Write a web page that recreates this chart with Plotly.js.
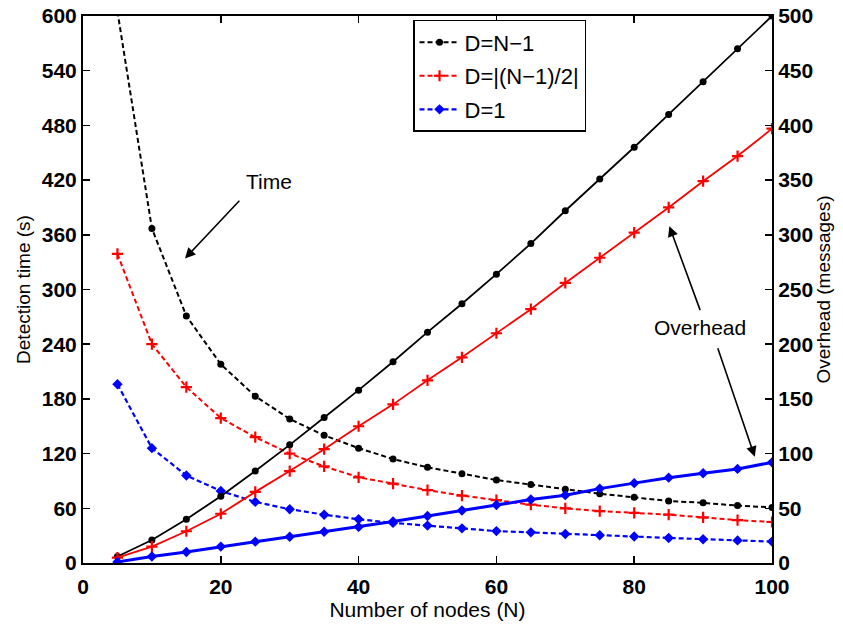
<!DOCTYPE html>
<html>
<head>
<meta charset="utf-8">
<script src="https://cdn.plot.ly/plotly-3.0.1.min.js"></script>
<style>html,body{margin:0;padding:0;background:#fff;}#chart{width:843px;height:625px;}</style>
</head>
<body>
<div id="chart"></div>
<script>
// Number of nodes
const nodes = [5,10,15,20,25,30,35,40,45,50,55,60,65,70,75,80,85,90,95,100];

// Detection time (s), left axis
const timeFull = [605,367,271,218,183,158,140,126,114,105,98,91,86,81,76,72,68,66,63,61];
const timeHalf = [339,240,193,159,138,120,106,94,87,80,74,69,64,60,57,55,53,50,47,45];
const timeOne  = [196,126,96,79,67,59,53,48,44,41,38,35,33.6,31.8,30.5,29,27.5,26,24.8,23.5];

// Overhead (messages), right axis
const ovFull = [6,21,40,61,84,108,133,158,184,211,237,264,292,322,351,380,410,440,470,500];
const ovHalf = [5,15,29,45,65,84,104,125,145,167,188,210,232,256,279,302,325,349,372,397];
const ovOne  = [1,6,10,15,19.5,24,28.6,33,38,43,48,53,58,62,68,73,78,82,86,92];

const seriesNames = ['D=N\u22121', 'D=|(N\u22121)/2|', 'D=1'];
const xTicks = [0,20,40,60,80,100];
const yLeftTicks = [0,60,120,180,240,300,360,420,480,540,600];
const yRightTicks = [0,50,100,150,200,250,300,350,400,450,500];

const FONT = 'Liberation Sans, Arial, Helvetica, sans-serif';
const dash = '5px,3px';

const traces = [
  {x: nodes, y: timeFull, name: seriesNames[0], mode: 'lines+markers', legendgroup: 'a',
   line: {color: '#000000', width: 2, dash: dash}, marker: {symbol: 'circle', size: 7, color: '#000000'}},
  {x: nodes, y: timeHalf, name: seriesNames[1], mode: 'lines+markers', legendgroup: 'b',
   line: {color: '#ff0000', width: 2, dash: dash}, marker: {symbol: 'cross-thin', size: 8, color: '#ff0000', line: {color: '#ff0000', width: 2.2}}},
  {x: nodes, y: timeOne, name: seriesNames[2], mode: 'lines+markers', legendgroup: 'c',
   line: {color: '#0000ff', width: 2.2, dash: dash}, marker: {symbol: 'diamond', size: 8, color: '#0000ff'}},
  {x: nodes, y: ovFull, yaxis: 'y2', showlegend: false, mode: 'lines+markers',
   line: {color: '#000000', width: 1.8}, marker: {symbol: 'circle', size: 7, color: '#000000'}},
  {x: nodes, y: ovHalf, yaxis: 'y2', showlegend: false, mode: 'lines+markers',
   line: {color: '#ff0000', width: 1.8}, marker: {symbol: 'cross-thin', size: 8, color: '#ff0000', line: {color: '#ff0000', width: 2.2}}},
  {x: nodes, y: ovOne, yaxis: 'y2', showlegend: false, mode: 'lines+markers',
   line: {color: '#0000ff', width: 3}, marker: {symbol: 'diamond', size: 8, color: '#0000ff'}}
];

const axisCommon = {
  showgrid: false, zeroline: false, showline: true, linecolor: '#000', linewidth: 2,
  ticks: 'inside', ticklen: 7, tickwidth: 1.5, tickcolor: '#000',
  tickfont: {family: FONT, size: 21, color: '#000', weight: 'bold'}
};

const layout = {
  width: 843, height: 625,
  margin: {l: 83, r: 71, t: 16, b: 62, pad: 0},
  paper_bgcolor: '#fff', plot_bgcolor: '#fff',
  font: {family: FONT, color: '#000'},
  showlegend: true,
  legend: {x: 0.479, y: 0.993, xanchor: 'left', yanchor: 'top', bgcolor: '#fff',
    bordercolor: '#000', borderwidth: 1.5, font: {family: FONT, size: 22, color: '#000'},
    traceorder: 'grouped', tracegroupgap: 2, itemwidth: 40},
  xaxis: Object.assign({}, axisCommon, {range: [0, 100], tickvals: xTicks, mirror: 'ticks',
    ticklabelstandoff: 4,
    title: {text: 'Number of nodes (N)', font: {family: FONT, size: 21, color: '#000'}, standoff: 0}}),
  yaxis: Object.assign({}, axisCommon, {range: [0, 600], tickvals: yLeftTicks,
    title: {text: 'Detection time (s)', font: {family: FONT, size: 19, color: '#000'}, standoff: 6}}),
  yaxis2: Object.assign({}, axisCommon, {range: [0, 500], tickvals: yRightTicks, overlaying: 'y', side: 'right',
    title: {text: 'Overhead (messages)', font: {family: FONT, size: 19, color: '#000'}, standoff: 4}}),
  annotations: [
    {xref: 'x', yref: 'y', x: 27.0, y: 418, text: 'Time', showarrow: false,
     font: {family: FONT, size: 21, color: '#000'}},
    {xref: 'x', yref: 'y', axref: 'x', ayref: 'y', x: 14.8, y: 334, ax: 22.9, ay: 399, text: '',
     showarrow: true, arrowhead: 2, arrowsize: 1.3, arrowwidth: 1.6, arrowcolor: '#000'},
    {xref: 'x', yref: 'y', x: 89.6, y: 258, text: 'Overhead', showarrow: false,
     font: {family: FONT, size: 21, color: '#000'}},
    {xref: 'x', yref: 'y', axref: 'x', ayref: 'y', x: 85.1, y: 369.5, ax: 89.65, ay: 275.7, text: '',
     showarrow: true, arrowhead: 2, arrowsize: 1.3, arrowwidth: 1.6, arrowcolor: '#000'},
    {xref: 'x', yref: 'y', axref: 'x', ayref: 'y', x: 97.5, y: 116.6, ax: 92.06, ay: 237.3, text: '',
     showarrow: true, arrowhead: 2, arrowsize: 1.3, arrowwidth: 1.6, arrowcolor: '#000'}
  ]
};

Plotly.newPlot('chart', traces, layout, {displayModeBar: false, staticPlot: true});
</script>
</body>
</html>
